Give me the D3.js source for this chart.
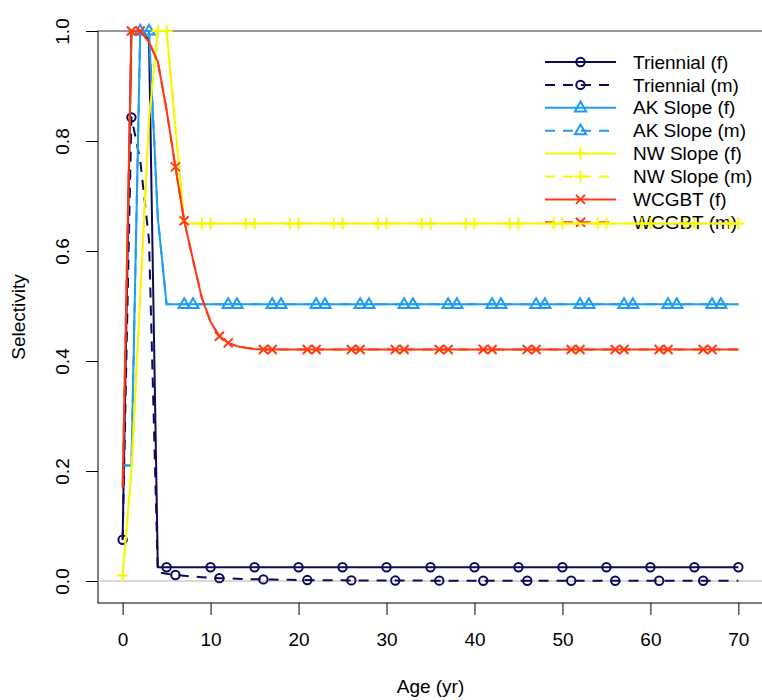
<!DOCTYPE html>
<html><head><meta charset="utf-8">
<script src="https://cdn.jsdelivr.net/npm/d3@7"></script>
<style>
body{margin:0;background:#fff}
svg{display:block}
text{font-family:"Liberation Sans",Arial,sans-serif;fill:#000}
</style>
</head><body>
<svg id="c" width="762" height="700"></svg>
<script>
// ---------- DATA ----------
const ages = d3.range(0, 71);
const xTicks = [0, 10, 20, 30, 40, 50, 60, 70];
const yTicks = [0, 0.2, 0.4, 0.6, 0.8, 1.0];
const yTickLabels = ["0.0", "0.2", "0.4", "0.6", "0.8", "1.0"];
const seriesNames = ["Triennial (f)", "Triennial (m)", "AK Slope (f)", "AK Slope (m)",
                     "NW Slope (f)", "NW Slope (m)", "WCGBT (f)", "WCGBT (m)"];

const triennialF = [0.075, 1.0, 1.0, 0.984, 0.025, 0.025, 0.025, 0.025, 0.025, 0.025, 0.025,
  0.025, 0.025, 0.025, 0.025, 0.025, 0.025, 0.025, 0.025, 0.025, 0.025,
  0.025, 0.025, 0.025, 0.025, 0.025, 0.025, 0.025, 0.025, 0.025, 0.025,
  0.025, 0.025, 0.025, 0.025, 0.025, 0.025, 0.025, 0.025, 0.025, 0.025,
  0.025, 0.025, 0.025, 0.025, 0.025, 0.025, 0.025, 0.025, 0.025, 0.025,
  0.025, 0.025, 0.025, 0.025, 0.025, 0.025, 0.025, 0.025, 0.025, 0.025,
  0.025, 0.025, 0.025, 0.025, 0.025, 0.025, 0.025, 0.025, 0.025, 0.025];
const triennialM = [0.075, 0.843, 0.765, 0.62, 0.016, 0.013, 0.011, 0.0095, 0.008, 0.007, 0.006,
  0.0052, 0.0046, 0.0041, 0.0036, 0.0032, 0.0029, 0.0026, 0.0023, 0.0021, 0.0019,
  0.0017, 0.0015, 0.0014, 0.0013, 0.0012, 0.0011, 0.001, 0.0009, 0.0009, 0.0008,
  0.0008, 0.0007, 0.0007, 0.0007, 0.0006, 0.0006, 0.0006, 0.0006, 0.0005, 0.0005,
  0.0005, 0.0005, 0.0005, 0.0005, 0.0005, 0.0005, 0.0005, 0.0005, 0.0005, 0.0005,
  0.0005, 0.0005, 0.0005, 0.0005, 0.0005, 0.0005, 0.0005, 0.0005, 0.0005, 0.0005,
  0.0005, 0.0005, 0.0005, 0.0005, 0.0005, 0.0005, 0.0005, 0.0005, 0.0005, 0.0005];
const akSlopeF = [0.21, 0.21, 1.0, 1.0, 0.66, 0.503, 0.503, 0.503, 0.503, 0.503, 0.503,
  0.503, 0.503, 0.503, 0.503, 0.503, 0.503, 0.503, 0.503, 0.503, 0.503,
  0.503, 0.503, 0.503, 0.503, 0.503, 0.503, 0.503, 0.503, 0.503, 0.503,
  0.503, 0.503, 0.503, 0.503, 0.503, 0.503, 0.503, 0.503, 0.503, 0.503,
  0.503, 0.503, 0.503, 0.503, 0.503, 0.503, 0.503, 0.503, 0.503, 0.503,
  0.503, 0.503, 0.503, 0.503, 0.503, 0.503, 0.503, 0.503, 0.503, 0.503,
  0.503, 0.503, 0.503, 0.503, 0.503, 0.503, 0.503, 0.503, 0.503, 0.503];
const akSlopeM = [0.21, 0.21, 1.0, 1.0, 0.66, 0.503, 0.503, 0.503, 0.503, 0.503, 0.503,
  0.503, 0.503, 0.503, 0.503, 0.503, 0.503, 0.503, 0.503, 0.503, 0.503,
  0.503, 0.503, 0.503, 0.503, 0.503, 0.503, 0.503, 0.503, 0.503, 0.503,
  0.503, 0.503, 0.503, 0.503, 0.503, 0.503, 0.503, 0.503, 0.503, 0.503,
  0.503, 0.503, 0.503, 0.503, 0.503, 0.503, 0.503, 0.503, 0.503, 0.503,
  0.503, 0.503, 0.503, 0.503, 0.503, 0.503, 0.503, 0.503, 0.503, 0.503,
  0.503, 0.503, 0.503, 0.503, 0.503, 0.503, 0.503, 0.503, 0.503, 0.503];
const nwSlopeF = [0.01, 0.2, 0.52, 0.84, 1.0, 1.0, 0.825, 0.65, 0.65, 0.65, 0.65,
  0.65, 0.65, 0.65, 0.65, 0.65, 0.65, 0.65, 0.65, 0.65, 0.65,
  0.65, 0.65, 0.65, 0.65, 0.65, 0.65, 0.65, 0.65, 0.65, 0.65,
  0.65, 0.65, 0.65, 0.65, 0.65, 0.65, 0.65, 0.65, 0.65, 0.65,
  0.65, 0.65, 0.65, 0.65, 0.65, 0.65, 0.65, 0.65, 0.65, 0.65,
  0.65, 0.65, 0.65, 0.65, 0.65, 0.65, 0.65, 0.65, 0.65, 0.65,
  0.65, 0.65, 0.65, 0.65, 0.65, 0.65, 0.65, 0.65, 0.65, 0.65];
const nwSlopeM = [0.01, 0.2, 0.52, 0.84, 1.0, 1.0, 0.825, 0.65, 0.65, 0.65, 0.65,
  0.65, 0.65, 0.65, 0.65, 0.65, 0.65, 0.65, 0.65, 0.65, 0.65,
  0.65, 0.65, 0.65, 0.65, 0.65, 0.65, 0.65, 0.65, 0.65, 0.65,
  0.65, 0.65, 0.65, 0.65, 0.65, 0.65, 0.65, 0.65, 0.65, 0.65,
  0.65, 0.65, 0.65, 0.65, 0.65, 0.65, 0.65, 0.65, 0.65, 0.65,
  0.65, 0.65, 0.65, 0.65, 0.65, 0.65, 0.65, 0.65, 0.65, 0.65,
  0.65, 0.65, 0.65, 0.65, 0.65, 0.65, 0.65, 0.65, 0.65, 0.65];
const wcgbtF = [0.17, 1.0, 1.0, 0.98, 0.944, 0.856, 0.753, 0.655, 0.584, 0.515, 0.471,
  0.445, 0.433, 0.427, 0.424, 0.422, 0.421, 0.421, 0.421, 0.421, 0.421,
  0.421, 0.421, 0.421, 0.421, 0.421, 0.421, 0.421, 0.421, 0.421, 0.421,
  0.421, 0.421, 0.421, 0.421, 0.421, 0.421, 0.421, 0.421, 0.421, 0.421,
  0.421, 0.421, 0.421, 0.421, 0.421, 0.421, 0.421, 0.421, 0.421, 0.421,
  0.421, 0.421, 0.421, 0.421, 0.421, 0.421, 0.421, 0.421, 0.421, 0.421,
  0.421, 0.421, 0.421, 0.421, 0.421, 0.421, 0.421, 0.421, 0.421, 0.421];
const wcgbtM = [0.17, 1.0, 1.0, 0.98, 0.944, 0.856, 0.753, 0.655, 0.584, 0.515, 0.471,
  0.445, 0.433, 0.427, 0.424, 0.422, 0.421, 0.421, 0.421, 0.421, 0.421,
  0.421, 0.421, 0.421, 0.421, 0.421, 0.421, 0.421, 0.421, 0.421, 0.421,
  0.421, 0.421, 0.421, 0.421, 0.421, 0.421, 0.421, 0.421, 0.421, 0.421,
  0.421, 0.421, 0.421, 0.421, 0.421, 0.421, 0.421, 0.421, 0.421, 0.421,
  0.421, 0.421, 0.421, 0.421, 0.421, 0.421, 0.421, 0.421, 0.421, 0.421,
  0.421, 0.421, 0.421, 0.421, 0.421, 0.421, 0.421, 0.421, 0.421, 0.421];

const seriesValues = [triennialF, triennialM, akSlopeF, akSlopeM, nwSlopeF, nwSlopeM, wcgbtF, wcgbtM];

// ---------- STYLE ----------
const NAVY = "#0b0b5a", SKY = "#1c9df2", YEL = "#f7f700", RED = "#ff3a12";
const styles = [
  {color: NAVY, dash: null, sym: "circle"},
  {color: NAVY, dash: "10,8", sym: "circle"},
  {color: SKY, dash: null, sym: "triangle"},
  {color: SKY, dash: "10,8", sym: "triangle"},
  {color: YEL, dash: null, sym: "plus"},
  {color: YEL, dash: "10,8", sym: "plus"},
  {color: RED, dash: null, sym: "cross"},
  {color: RED, dash: "10,8", sym: "cross"}
];

const svg = d3.select("#c");
const L = 98, R = 763, B = 603;
const x = d3.scaleLinear().domain([-2.8, 72.8]).range([L, R]);
const y = d3.scaleLinear().domain([-0.04, 1.04]).range([B, 9]);
const T = y(1.0);

// box (top edge coincides with the 1.0 reference line)
svg.append("rect").attr("x", L).attr("y", T).attr("width", R - L).attr("height", B - T)
  .attr("fill", "none").attr("stroke", "#000").attr("stroke-width", 1);

// reference lines
svg.append("g").selectAll("line").data([0, 1]).join("line")
  .attr("x1", L - 1).attr("x2", 762)
  .attr("y1", d => y(d)).attr("y2", d => y(d))
  .attr("stroke", "#b4b4b4").attr("stroke-width", 1.2);

// axes
const xAxis = d3.axisBottom(x).tickValues(xTicks).tickSize(12).tickPadding(18);
const gx = svg.append("g").attr("transform", `translate(0,${B})`).call(xAxis);
gx.select(".domain").remove();
gx.selectAll("text").attr("font-size", 19).style("font-family", '"Liberation Sans",Arial,sans-serif');

const yAxis = d3.axisLeft(y).tickValues(yTicks).tickSize(12).tickFormat((d, i) => yTickLabels[i]);
const gy = svg.append("g").attr("transform", `translate(${L},0)`).call(yAxis);
gy.select(".domain").remove();
gy.selectAll("text").remove();
gy.selectAll(".tick").append("text")
  .attr("transform", "translate(-36,0) rotate(-90)")
  .attr("text-anchor", "middle").attr("dy", "0.35em")
  .attr("font-size", 19).attr("fill", "#000")
  .text((d, i) => yTickLabels[i]);

// axis titles
svg.append("text").attr("x", (L + R) / 2).attr("y", 686).attr("text-anchor", "middle")
  .attr("dy", "0.35em").attr("font-size", 19).text("Age (yr)");
svg.append("text").attr("transform", `translate(18,${(T + B) / 2}) rotate(-90)`)
  .attr("text-anchor", "middle").attr("dy", "0.35em").attr("font-size", 19).text("Selectivity");

// symbol drawing
function drawSymbol(g, sym, color, cx, cy) {
  if (sym === "circle") {
    g.append("circle").attr("cx", cx).attr("cy", cy).attr("r", 4.2)
      .attr("fill", "none").attr("stroke", color).attr("stroke-width", 2);
  } else if (sym === "triangle") {
    g.append("path").attr("d", `M${cx},${cy - 6.2}L${cx + 5.6},${cy + 3.6}L${cx - 5.6},${cy + 3.6}Z`)
      .attr("fill", "none").attr("stroke", color).attr("stroke-width", 2);
  } else if (sym === "plus") {
    g.append("path").attr("d", `M${cx - 6},${cy}H${cx + 6}M${cx},${cy - 6}V${cy + 6}`)
      .attr("fill", "none").attr("stroke", color).attr("stroke-width", 2);
  } else {
    g.append("path").attr("d", `M${cx - 4.5},${cy - 4.5}L${cx + 4.5},${cy + 4.5}M${cx - 4.5},${cy + 4.5}L${cx + 4.5},${cy - 4.5}`)
      .attr("fill", "none").attr("stroke", color).attr("stroke-width", 2);
  }
}

// legend (drawn beneath the data)
const lg = svg.append("g");
seriesNames.forEach((name, i) => {
  const ly = 62 + i * 22.9;
  const st = styles[i];
  lg.append("line").attr("x1", 545).attr("x2", 616).attr("y1", ly).attr("y2", ly)
    .attr("stroke", st.color).attr("stroke-width", 2)
    .attr("stroke-dasharray", st.dash);
  drawSymbol(lg, st.sym, st.color, 580.5, ly);
  lg.append("text").attr("x", 633).attr("y", ly).attr("dy", "0.35em")
    .attr("font-size", 19).text(name);
});

// series
const line = d3.line().x((d, i) => x(ages[i])).y(d => y(d));
seriesValues.forEach((vals, k) => {
  const st = styles[k];
  const g = svg.append("g");
  g.append("path").attr("d", line(vals)).attr("fill", "none")
    .attr("stroke", st.color).attr("stroke-width", 2)
    .attr("stroke-dasharray", st.dash).attr("stroke-linejoin", "round");
  ages.forEach((a, i) => {
    if (a % 5 === k % 5) drawSymbol(g, st.sym, st.color, x(a), y(vals[i]));
  });
});
</script>
</body></html>
